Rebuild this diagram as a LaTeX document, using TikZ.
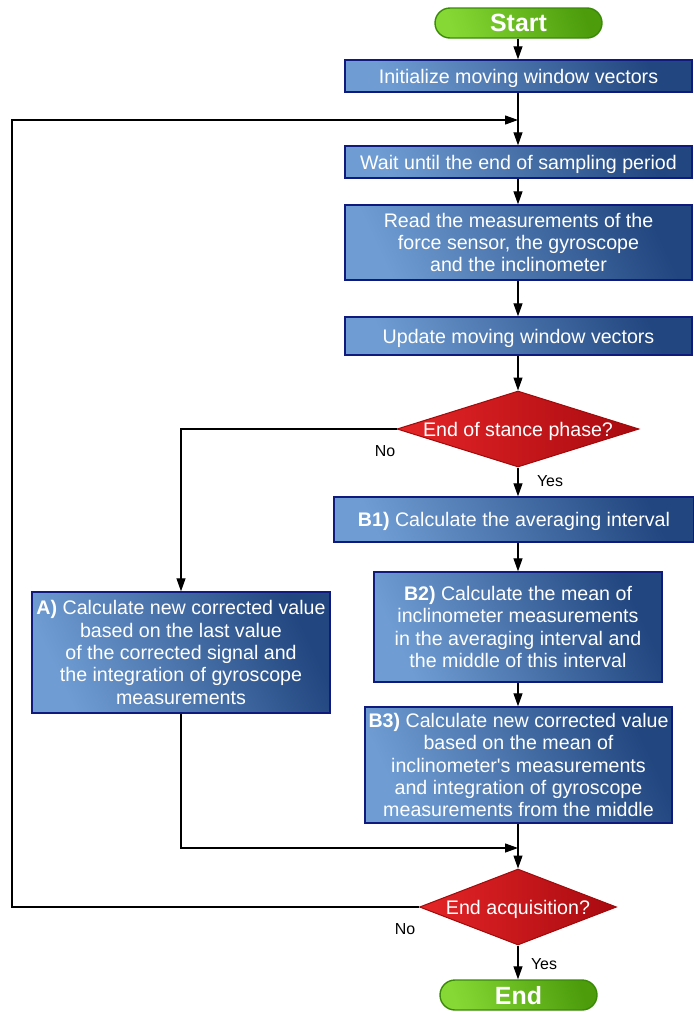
\documentclass[tikz,border=0pt]{standalone}
\usepackage{fontspec}
\setmainfont{Liberation Sans}
\usetikzlibrary{shapes.geometric,arrows.meta}
\definecolor{bL}{HTML}{6F9DD3}
\definecolor{bD}{HTML}{22467F}
\definecolor{bB}{HTML}{0E1A7E}
\definecolor{rL}{HTML}{E52527}
\definecolor{rD}{HTML}{A80A10}
\definecolor{rB}{HTML}{A00A0A}
\definecolor{gL}{HTML}{86D934}
\definecolor{gD}{HTML}{4C9C0C}
\definecolor{gB}{HTML}{3A8A08}
\tikzset{
  proc/.style={rectangle, draw=bB, line width=1.4bp, left color=bL, right color=bD, shading angle=115,
    text=white, align=center, inner sep=2bp, font=\fontsize{19.7}{22.5}\selectfont},
  oneline/.style={text depth=0pt},
  dec/.style={diamond, draw=rB, line width=1bp, left color=rL, right color=rD,
    text=white, inner sep=0pt, text depth=0pt, font=\fontsize{19.7}{22.5}\selectfont},
  term/.style={rectangle, rounded corners=15bp, draw=gB, line width=1.4bp, left color=gL, right color=gD, shading angle=110,
    text=white, font=\bfseries\fontsize{25}{28}\selectfont, minimum width=167bp, minimum height=30bp, inner sep=0pt, text depth=0pt},
  arr/.style={-{Triangle[length=13bp,width=9bp]}, line width=1.2bp},
  lbl/.style={font=\fontsize{16}{18}\selectfont, text=black}
}
\begin{document}
\begin{tikzpicture}[x=1bp,y=-1bp]
\useasboundingbox (0,0) rectangle (694,1012);
\node[term] (start) at (518.5,23) {Start};
\node[proc, oneline, minimum width=347bp, minimum height=32bp] (init) at (518.5,76) {Initialize moving window vectors};
\node[proc, oneline, minimum width=347bp, minimum height=32bp] (wait) at (518.5,162) {Wait until the end of sampling period};
\node[proc, minimum width=347bp, minimum height=75bp] (read) at (518.5,242.5) {Read the measurements of the\\force sensor, the gyroscope\\and the inclinometer};
\node[proc, oneline, minimum width=347bp, minimum height=38bp] (upd) at (518.5,336) {Update moving window vectors};
\node[dec, minimum width=242bp, minimum height=76bp, aspect=3.2] (d1) at (518,429) {End of stance phase?};
\node[proc, oneline, minimum width=360bp, minimum height=45bp] (b1) at (514,519.5) {\textbf{B1)} Calculate the averaging interval};
\node[proc, minimum width=288bp, minimum height=110bp] (b2) at (518,627) {\textbf{B2)} Calculate the mean of\\inclinometer measurements\\in the averaging interval and\\the middle of this interval};
\node[proc, minimum width=307bp, minimum height=116bp] (b3) at (518.5,765) {\textbf{B3)} Calculate new corrected value\\based on the mean of\\inclinometer\textquotesingle s measurements\\and integration of gyroscope\\measurements from the middle};
\node[proc, minimum width=298bp, minimum height=121bp] (a) at (181,652.5) {\textbf{A)} Calculate new corrected value\\based on the last value\\of the corrected signal and\\the integration of gyroscope\\measurements};
\node[dec, minimum width=197bp, minimum height=76bp, aspect=2.6] (d2) at (518,907) {End acquisition?};
\node[term, minimum width=157bp] (end) at (518.5,995) {End};
\coordinate (m1) at (518,120);
\coordinate (m2) at (518,848);
\coordinate (lp1) at (12,907);
\coordinate (lp2) at (12,120);
\coordinate (ac) at (181,429);
\coordinate (ab) at (181,848);
% connectors
\draw[arr] (start.south -| d1) -- (init.north -| d1);
\draw[arr] (init.south -| d1) -- (wait.north -| d1);
\draw[arr] (wait.south -| d1) -- (read.north -| d1);
\draw[arr] (read.south -| d1) -- (upd.north -| d1);
\draw[arr] (upd.south -| d1) -- (d1.north);
\draw[arr] (d1.south) -- (b1.north -| d1);
\draw[arr] (b1.south -| d1) -- (b2.north -| d1);
\draw[arr] (b2.south -| d1) -- (b3.north -| d1);
\draw[arr] (b3.south -| d1) -- (d2.north);
\draw[arr] (d2.south) -- (end.north -| d1);
\draw[arr] (d1.west) -- (ac) -- (a.north);
\draw[arr] (a.south) -- (ab) -- (m2);
\draw[arr] (d2.west) -- (lp1) -- (lp2) -- (m1);
% labels
\node[lbl] (no1) at (385,451) {No};
\node[lbl] (yes1) at (550,481) {Yes};
\node[lbl] (no2) at (405,929) {No};
\node[lbl] (yes2) at (544,964) {Yes};
\end{tikzpicture}
\end{document}
